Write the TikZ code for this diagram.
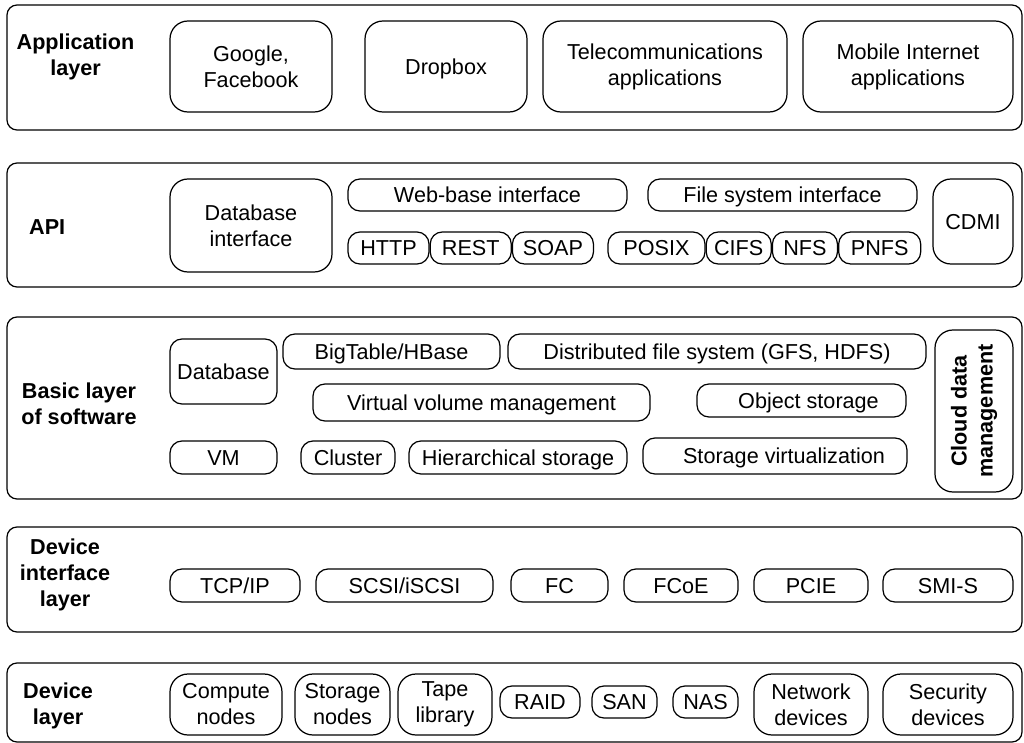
\documentclass[tikz,border=0pt]{standalone}
\usepackage{fontspec}
\setmainfont{Liberation Sans}
\usepackage{tikz}
\usetikzlibrary{positioning}

\begin{document}
\begin{tikzpicture}[
  font=\fontsize{12.3}{14.8}\selectfont,
  layer/.style={
    draw, line width=0.7pt, rounded corners=0.2cm,
    minimum width=20.3cm, inner sep=0pt
  },
  item/.style={
    draw, line width=0.7pt, rounded corners=0.24cm,
    inner sep=0pt, align=center, minimum height=0.66cm,
    text height=0.86em, text depth=0pt
  },
  tallitem/.style={item, rounded corners=0.36cm, text height={}, text depth={}},
  layerlabel/.style={font=\fontsize{12.3}{14.8}\selectfont\bfseries, align=center}
]
  \useasboundingbox (0,0) rectangle (20.48,-14.86);

  % layers
  \node[layer, minimum height=2.50cm] (appl) at (10.29,-1.35) {};
  \node[layer, minimum height=2.48cm] (api) at (10.29,-4.50) {};
  \node[layer, minimum height=3.64cm] (soft) at (10.29,-8.16) {};
  \node[layer, minimum height=2.10cm] (devif) at (10.29,-11.59) {};
  \node[layer, minimum height=1.58cm] (dev) at (10.29,-14.05) {};

  \node[layerlabel] (applname) at (1.51,-1.14) {Application\\layer};
  \node[layerlabel, anchor=west] (apiname) at (0.46,-4.54) {API};
  \node[layerlabel] (softname) at (1.58,-8.08) {Basic layer\\of software};
  \node[layerlabel] (devifname) at (1.30,-11.49) {Device\\interface\\layer};
  \node[layerlabel] (devname) at (1.16,-14.12) {Device\\layer};

  % application layer
  \node[tallitem, minimum width=3.24cm, minimum height=1.82cm] (google) at (5.02,-1.33) {Google,\\Facebook};
  \node[item, rounded corners=0.36cm, minimum width=3.24cm, minimum height=1.82cm] (dropbox) at (8.92,-1.33) {Dropbox};
  \node[tallitem, minimum width=4.88cm, minimum height=1.82cm] (telecom) at (13.30,-1.33) {Telecommunications\\applications};
  \node[tallitem, minimum width=4.20cm, minimum height=1.82cm] (mobile) at (18.16,-1.33) {Mobile Internet\\applications};

  % API
  \node[tallitem, minimum width=3.24cm, minimum height=1.86cm] (dbif) at (5.02,-4.51) {Database\\interface};
  \node[item, minimum width=5.58cm, minimum height=0.64cm] (webif) at (9.75,-3.90) {Web-base interface};
  \node[item, minimum width=5.38cm, minimum height=0.64cm] (fsif) at (15.65,-3.90) {File system interface};
  \node[item, minimum width=1.62cm, minimum height=0.64cm] (http) at (7.77,-4.96) {HTTP};
  \node[item, minimum width=1.62cm, minimum height=0.64cm, right=0pt of http] (rest) {REST};
  \node[item, minimum width=1.62cm, minimum height=0.64cm, right=0pt of rest] (soap) {SOAP};
  \node[item, minimum width=1.94cm, minimum height=0.64cm] (posix) at (13.13,-4.96) {POSIX};
  \node[item, minimum width=1.30cm, minimum height=0.64cm, right=0pt of posix] (cifs) {CIFS};
  \node[item, minimum width=1.30cm, minimum height=0.64cm, right=0pt of cifs] (nfs) {NFS};
  \node[item, minimum width=1.64cm, minimum height=0.64cm, right=0pt of nfs] (pnfs) {PNFS};
  \node[item, rounded corners=0.36cm, minimum width=1.60cm, minimum height=1.70cm] (cdmi) at (19.46,-4.43) {CDMI};

  % basic layer of software
  \node[item, minimum width=2.14cm, minimum height=1.30cm] (db) at (4.47,-7.43) {Database};
  \node[item, minimum width=4.34cm, minimum height=0.70cm] (bigtable) at (7.83,-7.03) {BigTable/HBase};
  \node[item, minimum width=8.36cm, minimum height=0.70cm] (dfs) at (14.34,-7.03) {Distributed file system (GFS, HDFS)};
  \node[item, minimum width=6.74cm, minimum height=0.74cm] (vvm) at (9.63,-8.05) {Virtual volume management};
  \node[item, minimum width=4.18cm] (objst) at (16.03,-8.01) {\hspace{0.28cm}Object storage};
  \node[item, minimum width=2.14cm] (vm) at (4.47,-9.15) {VM};
  \node[item, minimum width=1.88cm] (cluster) at (6.96,-9.15) {Cluster};
  \node[item, minimum width=4.36cm] (hier) at (10.36,-9.15) {Hierarchical storage};
  \node[item, minimum width=5.28cm, minimum height=0.72cm] (stvirt) at (15.50,-9.12) {\hspace{0.36cm}Storage virtualization};
  \node[tallitem, rotate=90, minimum width=3.24cm, minimum height=1.56cm,
        font=\fontsize{12.3}{14.8}\selectfont\bfseries] (cloud) at (19.48,-8.22) {Cloud data\\management};

  % device interface layer
  \node[item, minimum width=2.60cm] (tcpip) at (4.70,-11.71) {TCP/IP};
  \node[item, minimum width=3.54cm] (scsi) at (8.09,-11.71) {SCSI/iSCSI};
  \node[item, minimum width=1.94cm] (fc) at (11.19,-11.71) {FC};
  \node[item, minimum width=2.28cm] (fcoe) at (13.62,-11.71) {FCoE};
  \node[item, minimum width=2.28cm] (pcie) at (16.22,-11.71) {PCIE};
  \node[item, minimum width=2.60cm] (smis) at (18.96,-11.71) {SMI-S};

  % device layer
  \node[tallitem, minimum width=2.24cm, minimum height=1.22cm] (compute) at (4.52,-14.09) {Compute\\nodes};
  \node[tallitem, minimum width=1.90cm, minimum height=1.22cm] (stnodes) at (6.85,-14.09) {Storage\\nodes};
  \node[tallitem, minimum width=1.88cm, minimum height=1.22cm] (tape) at (8.90,-14.09) {Tape\\library};
  \node[item, minimum width=1.60cm, minimum height=0.64cm] (raid) at (10.80,-14.04) {RAID};
  \node[item, minimum width=1.30cm, minimum height=0.64cm] (san) at (12.49,-14.04) {SAN};
  \node[item, minimum width=1.30cm, minimum height=0.64cm] (nas) at (14.11,-14.04) {NAS};
  \node[tallitem, minimum width=2.28cm, minimum height=1.22cm] (netdev) at (16.22,-14.09) {Network\\devices};
  \node[tallitem, minimum width=2.60cm, minimum height=1.22cm] (secdev) at (18.96,-14.09) {Security\\devices};
\end{tikzpicture}
\end{document}
